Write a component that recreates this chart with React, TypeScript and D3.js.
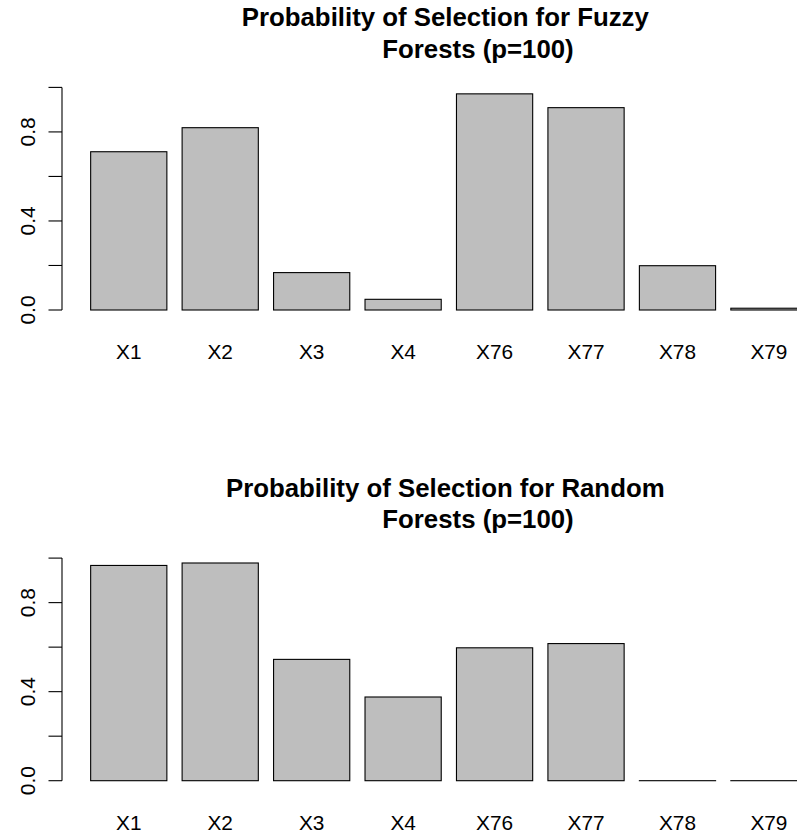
import React, { useEffect, useRef } from "react";
import * as d3 from "d3";

const categories = ["X1", "X2", "X3", "X4", "X76", "X77", "X78", "X79"];
const fuzzyForestProb = [0.711, 0.819, 0.168, 0.048, 0.971, 0.909, 0.199, 0.008];
const randomForestProb = [0.967, 0.978, 0.545, 0.376, 0.597, 0.616, 0, 0];
const yTicks = [0, 0.2, 0.4, 0.6, 0.8, 1.0];
const yTickLabels = [0, 0.4, 0.8];

const panels = [
  { lines: ["Probability of Selection for Fuzzy", "Forests (p=100)"], values: fuzzyForestProb, offset: 0 },
  { lines: ["Probability of Selection for Random", "Forests (p=100)"], values: randomForestProb, offset: 470.7 },
];

const App = () => {
  const svgRef = useRef<SVGSVGElement>(null);

  useEffect(() => {
    const width = 797;
    const height = 835;
    const font = "'Liberation Sans', Arial, Helvetica, sans-serif";

    const svg = d3.select(svgRef.current).attr("width", width).attr("height", height);
    svg.selectAll("*").remove();

    // R barplot units: bar i spans [0.2 + 1.2i, 1.2 + 1.2i]
    const x = d3.scaleLinear().domain([-0.176, 9.976]).range([62, 835.7]);

    panels.forEach((p) => {
      const g = svg.append("g").attr("transform", `translate(0,${p.offset})`);
      const y = d3.scaleLinear().domain([0, 1]).range([310, 87.4]);

      // title
      const title = g.append("text")
        .attr("font-family", font)
        .attr("font-weight", "bold")
        .attr("font-size", 25.8)
        .attr("text-anchor", "middle")
        .attr("fill", "#000");
      title.append("tspan").attr("x", 445.3).attr("y", 26).text(p.lines[0]);
      title.append("tspan").attr("x", 478).attr("y", 57.5).text(p.lines[1]);

      // bars (zero-height ones still show their outline, as in R)
      g.selectAll("rect.bar")
        .data(p.values)
        .enter()
        .append("rect")
        .attr("class", "bar")
        .attr("x", (d, i) => x(0.2 + 1.2 * i))
        .attr("width", (d, i) => x(1.2 + 1.2 * i) - x(0.2 + 1.2 * i))
        .attr("y", (d) => Math.min(y(d), y(0) - 0.01))
        .attr("height", (d) => Math.max(y(0) - y(d), 0.01))
        .attr("fill", "#bebebe")
        .attr("stroke", "#000")
        .attr("stroke-width", 1.1);

      // category labels
      g.selectAll("text.cat")
        .data(categories)
        .enter()
        .append("text")
        .attr("class", "cat")
        .attr("x", (d, i) => x(0.7 + 1.2 * i))
        .attr("y", 359.3)
        .attr("text-anchor", "middle")
        .attr("font-family", font)
        .attr("font-size", 20.8)
        .text((d) => d);

      // y axis
      const axisX = x(-0.176);
      g.append("line")
        .attr("x1", axisX).attr("x2", axisX)
        .attr("y1", y(0)).attr("y2", y(1))
        .attr("stroke", "#000").attr("stroke-width", 1.1);
      g.selectAll("line.tick")
        .data(yTicks)
        .enter()
        .append("line")
        .attr("class", "tick")
        .attr("x1", axisX - 13.5).attr("x2", axisX)
        .attr("y1", (d) => y(d)).attr("y2", (d) => y(d))
        .attr("stroke", "#000").attr("stroke-width", 1.1);
      g.selectAll("text.ylab")
        .data(yTickLabels)
        .enter()
        .append("text")
        .attr("class", "ylab")
        .attr("transform", (d) => `translate(35,${y(d)}) rotate(-90)`)
        .attr("text-anchor", "middle")
        .attr("font-family", font)
        .attr("font-size", 21)
        .text((d) => d3.format(".1f")(d));
    });
  }, []);

  return (
    <svg
      ref={svgRef}
      style={{ position: "absolute", left: 0, top: 0, background: "#fff", display: "block" }}
    ></svg>
  );
};

export default App;
